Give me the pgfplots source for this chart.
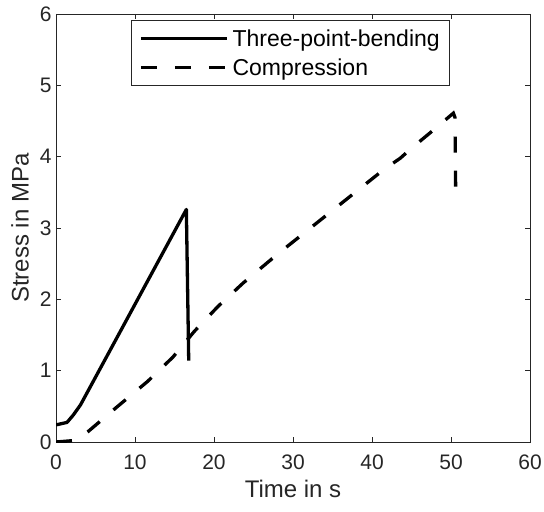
\documentclass[border=0pt]{standalone}
\usepackage{fontspec}
\setmainfont{Liberation Sans}
\usepackage{pgfplots}
\pgfplotsset{compat=1.18}
\definecolor{axgray}{RGB}{38,38,38}

\begin{document}
\begin{tikzpicture}
\begin{axis}[
    width=474pt, height=428pt,
    scale only axis,
    xmin=0, xmax=60, ymin=0, ymax=6,
    xtick={0,10,...,60}, ytick={0,1,...,6},
    tick align=inside,
    major tick length=5pt,
    axis line style={axgray, line width=0.8pt},
    every tick/.style={axgray, line width=0.8pt},
    tick label style={font=\fontsize{21}{25}\selectfont, text=axgray},
    /pgf/number format/assume math mode=true,
    xticklabel style={yshift=-9pt},
    yticklabel style={xshift=-1pt},
    xlabel={Time in s},
    ylabel={Stress in MPa},
    label style={font=\fontsize{24}{28}\selectfont, text=axgray},
    xlabel style={yshift=-4pt},
    ylabel style={yshift=4pt},
    legend cell align=left,
    legend image code/.code={\draw[#1] (0pt,0pt) -- (86pt,0pt);},
    legend style={
        at={(rel axis cs:0.158,0.986)}, anchor=north west,
        font=\fontsize{23}{27}\selectfont,
        draw=axgray, line width=0.8pt,
        inner xsep=8pt, inner ysep=7pt,
        row sep=7pt,
        /tikz/every odd column/.append style={column sep=2pt},
    },
]
% three-point-bending
\addplot[black, line width=3.3pt, line join=round] coordinates {
    (0,0.24) (1.4,0.275) (2.2,0.38) (3.1,0.52) (7.7,1.46) (16.5,3.26) (16.8,1.14)
};
\addlegendentry{Three-point-bending}
% compression
\addplot[black, line width=3.3pt, dash pattern=on 16pt off 18pt] coordinates {
    (0,0.0) (2.2,0.02) (4.1,0.15) (7.7,0.49) (11.6,0.85) (14.8,1.19)
    (17.5,1.55) (20.5,1.90) (23.7,2.23) (28.0,2.63) (31.3,2.92)
    (34.7,3.22) (38.1,3.52) (41.5,3.82) (43.6,3.98) (44.8,4.10)
    (47.2,4.32) (50.3,4.61) (50.5,4.55) (50.6,3.44)
};
\addlegendentry{Compression}
\end{axis}
\pgfresetboundingbox
\path ([shift={(-56pt,-69pt)}]current axis.south west) rectangle ([shift={(14pt,14pt)}]current axis.north east);
\end{tikzpicture}
\end{document}
